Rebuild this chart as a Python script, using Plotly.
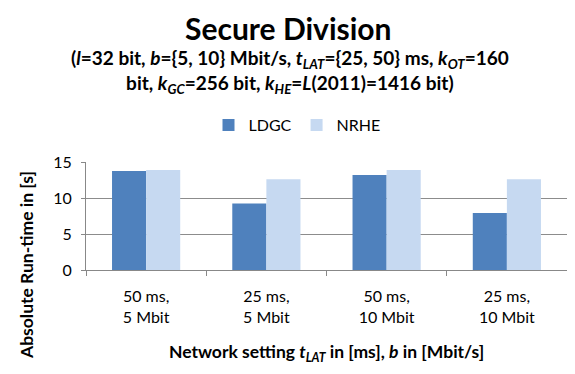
import plotly.graph_objects as go

categories = ["50 ms,<br>5 Mbit", "25 ms,<br>5 Mbit", "50 ms,<br>10 Mbit", "25 ms,<br>10 Mbit"]
ldgc = [13.75, 9.25, 13.2, 7.9]
nrhe = [13.9, 12.6, 13.9, 12.6]
y_ticks = [0, 5, 10, 15]

FONT = "Lato, 'Open Sans', sans-serif"

# the page body adds an 8px offset; plot area aimed at x 86..567, y 162..270 in the window
W, H = 559, 358
L, T = 78, 154
PW, PH = 481, 108

fig = go.Figure()
fig.add_trace(go.Bar(name="LDGC", x=categories, y=ldgc, marker=dict(color="#4F81BD", line=dict(width=0))))
fig.add_trace(go.Bar(name="NRHE", x=categories, y=nrhe, marker=dict(color="#C6D9F1", line=dict(width=0))))


def px(xabs):
    return (xabs - 86) / PW


def py(yabs):
    return (270 - yabs) / PH


fig.update_layout(
    width=W, height=H,
    margin=dict(l=L, r=W - L - PW, t=T, b=H - T - PH, autoexpand=False),
    paper_bgcolor="white", plot_bgcolor="white",
    barmode="group", bargap=0.433, bargroupgap=0,
    font=dict(family=FONT, size=16, color="black"),
    showlegend=True,
    legend=dict(orientation="h", x=px(297), xanchor="center", y=py(125), yanchor="middle",
                font=dict(size=16), itemwidth=30, traceorder="normal"),
    xaxis=dict(showgrid=False, showline=True, linecolor="#888888", linewidth=1,
               ticks="outside", ticklen=5, tickcolor="#888888", tickson="boundaries",
               tickfont=dict(size=16), ticklabelstandoff=12),
    yaxis=dict(range=[0, 15], tickvals=y_ticks, showgrid=True, gridcolor="#8c8c8c", gridwidth=1,
               showline=True, linecolor="#888888", ticks="outside", ticklen=4, tickcolor="#888888",
               zeroline=False, tickfont=dict(size=16), ticklabelstandoff=6),
)

fig.add_annotation(text="<b>Secure Division</b>", xref="paper", yref="paper",
                   x=px(288), y=py(28), xanchor="center", yanchor="middle",
                   showarrow=False, font=dict(size=30))
fig.add_annotation(
    text="<b>(<i>l</i>=32 bit, <i>b</i>={5, 10} Mbit/s, <i>t</i><sub><i>LAT</i></sub>={25, 50} ms, <i>k</i><sub><i>OT</i></sub>=160<br>"
         "bit, <i>k</i><sub><i>GC</i></sub>=256 bit, <i>k</i><sub><i>HE</i></sub>=<i>L</i>(2011)=1416 bit)</b>",
    xref="paper", yref="paper", x=px(290), y=py(71),
    xanchor="center", yanchor="middle", showarrow=False, font=dict(size=19))
fig.add_annotation(
    text="<b>Network setting <i>t</i><sub><i>LAT</i></sub> in [ms], <i>b</i> in [Mbit/s]</b>",
    xref="paper", yref="paper", x=px(326), y=py(353),
    xanchor="center", yanchor="middle", showarrow=False, font=dict(size=17.5))
fig.add_annotation(
    text="<b>Absolute Run-time in [s]</b>", textangle=-90,
    xref="paper", yref="paper", x=px(26), y=py(265),
    xanchor="center", yanchor="middle", showarrow=False, font=dict(size=17.5))

fig.write_html("out.html")
